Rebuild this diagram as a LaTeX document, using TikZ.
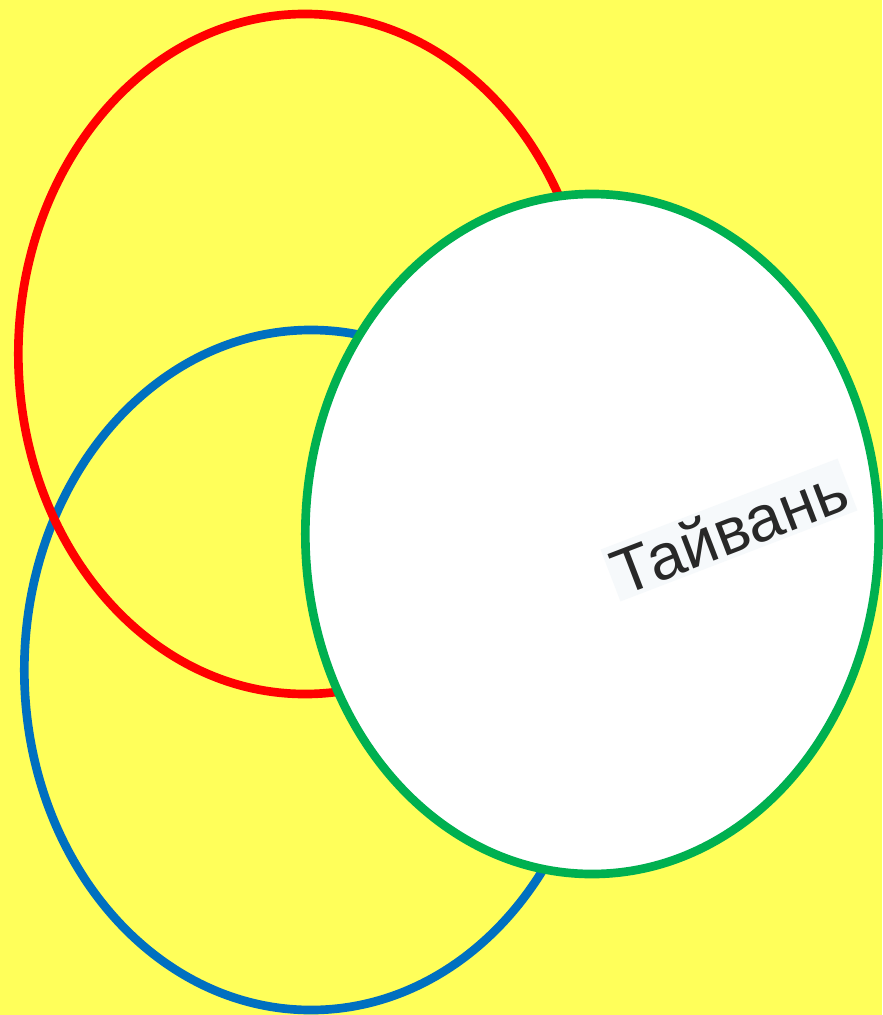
\documentclass[tikz,border=0pt]{standalone}
\usepackage{fontspec}
\setmainfont{Liberation Sans}
\usepackage{xcolor}
\usepackage{tikz}
\usetikzlibrary{shapes.geometric}

\definecolor{bgyellow}{RGB}{255,255,90}
\definecolor{ringred}{RGB}{255,0,0}
\definecolor{ringblue}{RGB}{0,112,192}
\definecolor{ringgreen}{RGB}{0,176,80}
\definecolor{labelgray}{RGB}{40,40,40}
\definecolor{labelback}{RGB}{246,249,251}

\begin{document}
\begin{tikzpicture}[
      x=0.03cm, y=-0.03cm,
      ring/.style={draw=#1, ellipse, line width=0.26cm, inner sep=0pt,
        outer sep=0pt, minimum width=17.2cm, minimum height=20.4cm},
      label/.style={font=\fontsize{55}{60}\selectfont, text=labelgray,
        fill=labelback, inner sep=3pt, rotate=21}
    ]
    \fill[bgyellow] (0,0) rectangle (882,1015);
    \useasboundingbox (0,0) rectangle (882,1015);

    \node[ring=ringblue] (blue) at (311,670) {};
    \node[ring=ringred] (red) at (305,354) {};
    \node[ring=ringgreen, fill=white] (green) at (592,534) {};

    \node[label] (taiwan) at (729,530) {Тайвань};
  \end{tikzpicture}
\end{document}
